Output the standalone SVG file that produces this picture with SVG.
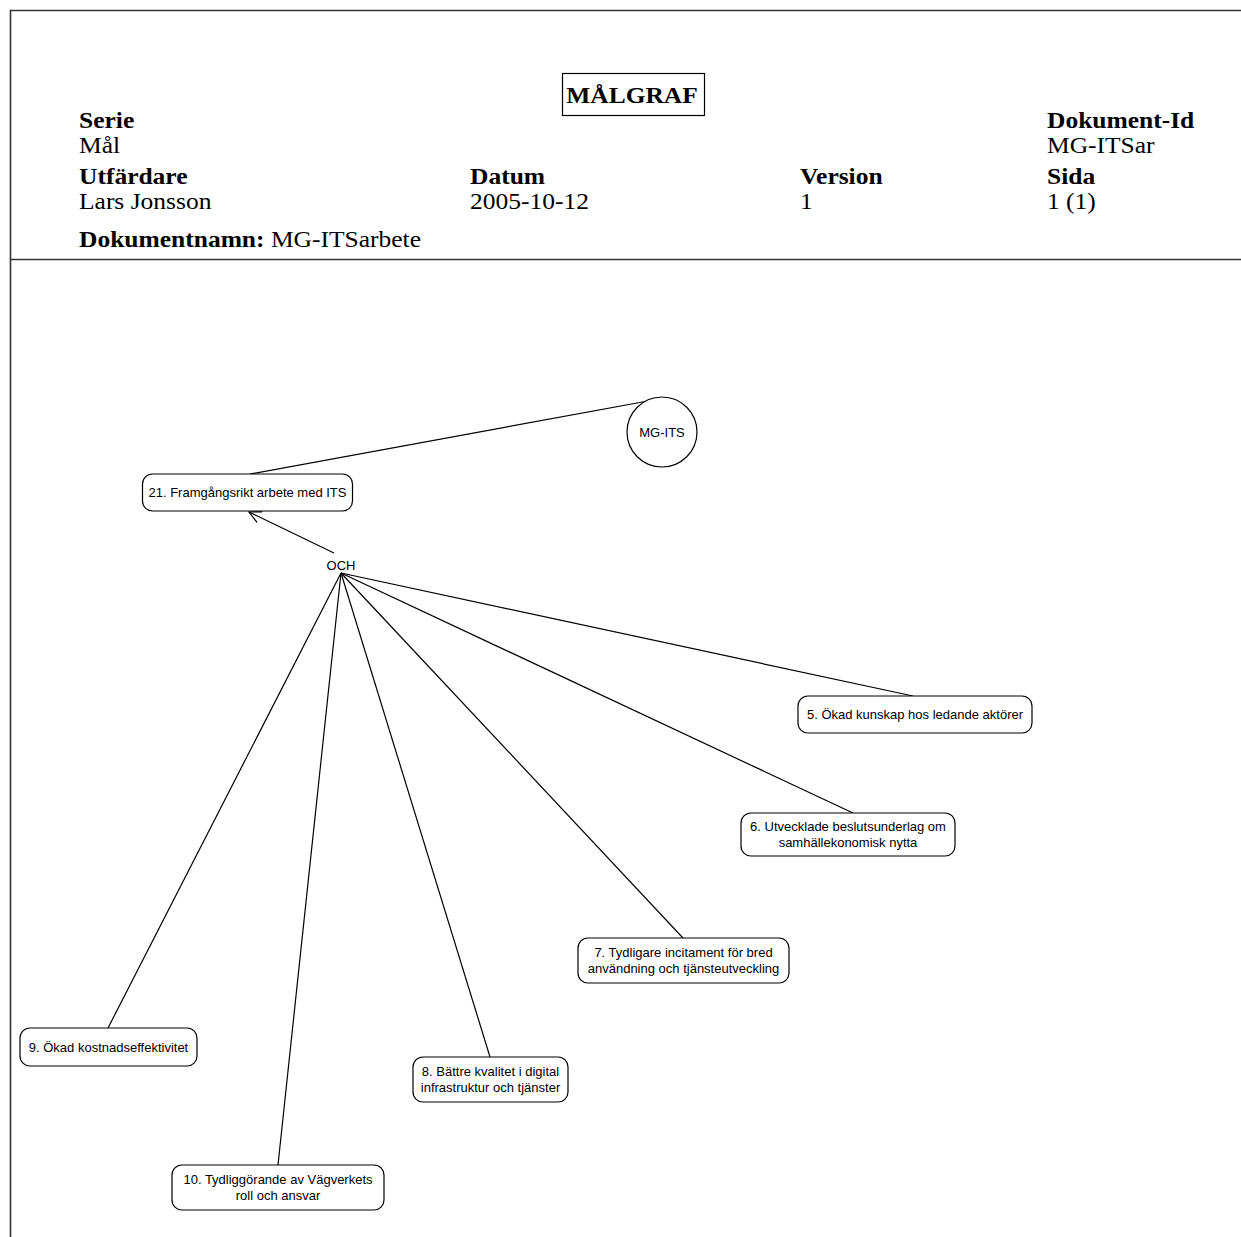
<svg xmlns="http://www.w3.org/2000/svg" width="1241" height="1237" viewBox="0 0 1241 1237">
<style>
.frame{stroke:#333;stroke-width:1.6;fill:none}
.hb{font-family:"Liberation Serif","Times New Roman",serif;font-size:24px;font-weight:bold;fill:#000}
.hr{font-family:"Liberation Serif","Times New Roman",serif;font-size:24px;fill:#000}
.node rect,.node circle{fill:#fff;stroke:#000;stroke-width:1.2}
.lbl{font-family:"Liberation Sans",Arial,sans-serif;font-size:13px;fill:#000;text-anchor:middle}
.edge{stroke:#000;stroke-width:1.2;fill:none}
</style>
<defs>
<marker id="arr" markerUnits="userSpaceOnUse" markerWidth="14" markerHeight="14" refX="12" refY="6" orient="auto" viewBox="0 0 14 12">
<path d="M0,0 L12,6 L0,12" fill="none" stroke="#000" stroke-width="1.2"/>
</marker>
</defs>
<rect width="1241" height="1237" fill="#fff"/>
<g id="frame">
<path class="frame" d="M10.5,1237 V10.5 H1241"/>
<path class="frame" d="M10.5,259.5 H1241"/>
</g>
<g id="header">
<rect x="562.5" y="73.5" width="142" height="42" fill="none" stroke="#000" stroke-width="1.2"/>
<text transform="translate(632,103) scale(1.06,1)" font-family="Liberation Serif,Times New Roman,serif" font-size="24" font-weight="bold" text-anchor="middle">MÅLGRAF</text>
<text class="hb" transform="translate(79,128) scale(1.0625,1)">Serie</text>
<text class="hr" transform="translate(79,153) scale(1.0625,1)">Mål</text>
<text class="hb" transform="translate(1047,128) scale(1.0625,1)">Dokument-Id</text>
<text class="hr" transform="translate(1047,153) scale(1.0625,1)">MG-ITSar</text>
<text class="hb" transform="translate(79,184) scale(1.0625,1)">Utfärdare</text>
<text class="hr" transform="translate(79,209) scale(1.0625,1)">Lars Jonsson</text>
<text class="hb" transform="translate(470,184) scale(1.0625,1)">Datum</text>
<text class="hr" transform="translate(470,209) scale(1.0625,1)">2005-10-12</text>
<text class="hb" transform="translate(800,184) scale(1.0625,1)">Version</text>
<text class="hr" transform="translate(800,209) scale(1.0625,1)">1</text>
<text class="hb" transform="translate(1047,184) scale(1.0625,1)">Sida</text>
<text class="hr" transform="translate(1047,209) scale(1.0625,1)">1 (1)</text>
<text transform="translate(79,247) scale(1.0625,1)"><tspan class="hb">Dokumentnamn:</tspan><tspan class="hr"> MG-ITSarbete</tspan></text>
</g>
<g id="connectors">
<line class="edge" x1="250" y1="474" x2="648" y2="401"/>
<line class="edge" x1="334" y1="553" x2="249" y2="512" marker-end="url(#arr)"/>
<line class="edge" x1="341" y1="573" x2="913" y2="696"/>
<line class="edge" x1="341" y1="573" x2="853" y2="813"/>
<line class="edge" x1="341" y1="573" x2="683" y2="938"/>
<line class="edge" x1="341" y1="573" x2="490" y2="1057"/>
<line class="edge" x1="341" y1="573" x2="278" y2="1165"/>
<line class="edge" x1="341" y1="573" x2="108" y2="1028"/>
</g>
<g id="n-mgits" class="node">
<circle cx="662" cy="432" r="35"/>
<text class="lbl" x="662" y="437">MG-ITS</text>
</g>
<g id="n21" class="node">
<rect x="142.5" y="474" width="210" height="37" rx="10"/>
<text class="lbl" x="247.5" y="497">21. Framgångsrikt arbete med ITS</text>
</g>
<g id="och">
<text class="lbl" x="341" y="570">OCH</text>
</g>
<g id="n5" class="node">
<rect x="798" y="696" width="234" height="37" rx="10"/>
<text class="lbl" x="915" y="719">5. Ökad kunskap hos ledande aktörer</text>
</g>
<g id="n6" class="node">
<rect x="741" y="813" width="214" height="43" rx="10"/>
<text class="lbl" x="848" y="831">6. Utvecklade beslutsunderlag om</text>
<text class="lbl" x="848" y="847">samhällekonomisk nytta</text>
</g>
<g id="n7" class="node">
<rect x="578" y="938" width="211" height="45" rx="10"/>
<text class="lbl" x="683.5" y="957">7. Tydligare incitament för bred</text>
<text class="lbl" x="683.5" y="973">användning och tjänsteutveckling</text>
</g>
<g id="n8" class="node">
<rect x="413" y="1057" width="155" height="45" rx="10"/>
<text class="lbl" x="490.5" y="1076">8. Bättre kvalitet i digital</text>
<text class="lbl" x="490.5" y="1092">infrastruktur och tjänster</text>
</g>
<g id="n9" class="node">
<rect x="20" y="1028" width="177" height="38" rx="10"/>
<text class="lbl" x="108.5" y="1051.5">9. Ökad kostnadseffektivitet</text>
</g>
<g id="n10" class="node">
<rect x="172" y="1165" width="212" height="45" rx="10"/>
<text class="lbl" x="278" y="1184">10. Tydliggörande av Vägverkets</text>
<text class="lbl" x="278" y="1200">roll och ansvar</text>
</g>
</svg>
